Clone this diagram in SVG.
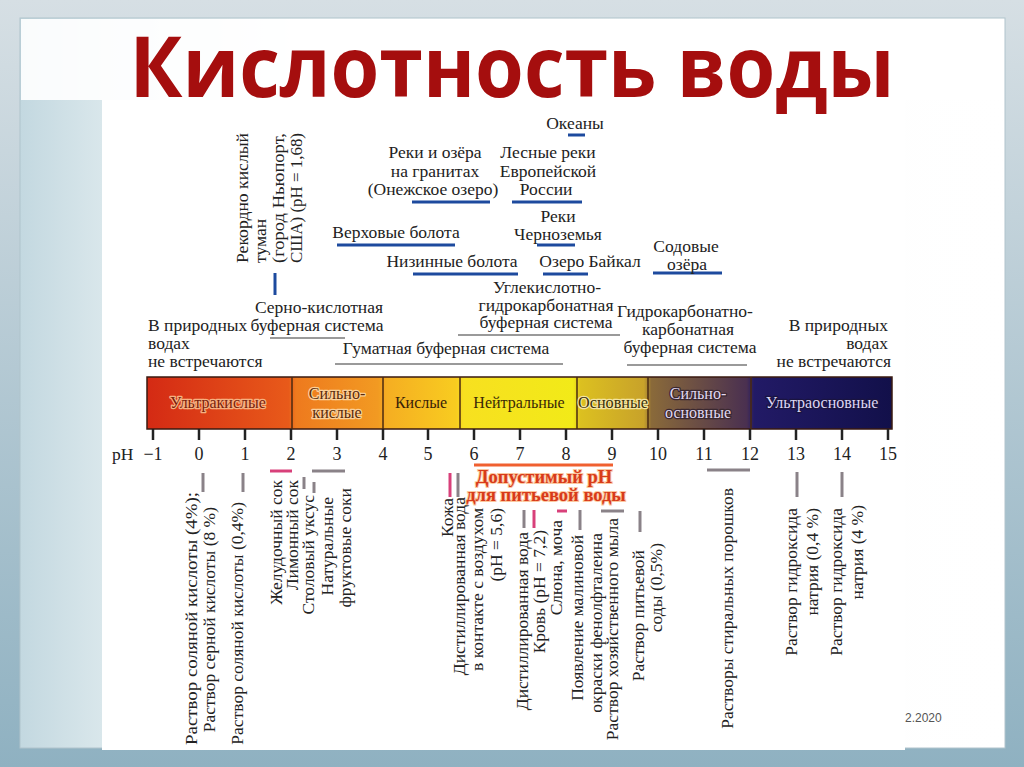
<svg xmlns="http://www.w3.org/2000/svg" width="1024" height="767" viewBox="0 0 1024 767">
<defs>
<linearGradient id="outer" x1="0" y1="0" x2="0" y2="1">
<stop offset="0" stop-color="#d6dfe4"/><stop offset="1" stop-color="#8fb1c1"/>
</linearGradient>
<linearGradient id="slide" x1="0" y1="0" x2="1" y2="0">
<stop offset="0" stop-color="#c3d8e0"/><stop offset="0.09" stop-color="#dbe8ec"/><stop offset="0.3" stop-color="#fbfcfc"/><stop offset="1" stop-color="#ffffff"/>
</linearGradient>
<linearGradient id="bar" x1="147" y1="0" x2="892" y2="0" gradientUnits="userSpaceOnUse">
<stop offset="0" stop-color="#d42a14"/><stop offset="0.19" stop-color="#e85a1a"/>
<stop offset="0.2" stop-color="#ee7a1e"/><stop offset="0.31" stop-color="#f29a22"/>
<stop offset="0.322" stop-color="#f5ae22"/><stop offset="0.415" stop-color="#f8cc20"/>
<stop offset="0.425" stop-color="#f7e020"/><stop offset="0.572" stop-color="#f2ea18"/>
<stop offset="0.582" stop-color="#dcc020"/><stop offset="0.667" stop-color="#c8a22a"/>
<stop offset="0.677" stop-color="#8a6a3a"/><stop offset="0.805" stop-color="#4a3050"/>
<stop offset="0.815" stop-color="#221a66"/><stop offset="1" stop-color="#12104a"/>
</linearGradient>
<style>
.t{font-family:"Liberation Serif","DejaVu Serif",serif;font-size:17.5px;fill:#222}
.m{text-anchor:middle}
.e{text-anchor:end}
.bt{font-family:"Liberation Serif","DejaVu Serif",serif;font-size:16px;text-anchor:middle;paint-order:stroke;stroke-width:2.5px;stroke-linejoin:round}
.num{font-family:"Liberation Serif","DejaVu Serif",serif;font-size:18px;fill:#222;text-anchor:middle}
.dr{font-family:"Liberation Serif","DejaVu Serif",serif;font-weight:bold;font-size:18.5px;fill:#d83a1a;stroke:#fbc8a0;stroke-width:2px;paint-order:stroke;text-anchor:middle}
.blue{stroke:#1d4a9e;stroke-width:3;fill:none}
.gray{stroke:#9a9a9a;stroke-width:2;fill:none}
.gm{stroke:#8a8288;stroke-width:3;fill:none}
.pk{stroke:#d8407a;stroke-width:3;fill:none}
.tick{stroke:#222;stroke-width:2.5}
.div{stroke:#4a2a10;stroke-width:1.5}
</style>
</defs>

<g id="background">
<rect x="0" y="0" width="1024" height="767" fill="url(#outer)"/>
<rect x="20" y="18" width="985" height="730" fill="url(#slide)" stroke="#b0c3cc"/>
<rect x="21" y="19" width="983" height="81" fill="#ffffff" opacity="0.9"/>
<rect x="102" y="100" width="803" height="650" fill="#ffffff"/>
</g>

<g id="title">
<text x="512" y="97" text-anchor="middle" textLength="765" lengthAdjust="spacingAndGlyphs" font-family="Open Sans, Liberation Sans, sans-serif" font-weight="bold" font-size="84" fill="#a50e0e">Кислотность воды</text>
</g>

<g id="scale">
<rect x="147" y="377" width="745" height="52" fill="url(#bar)" stroke="#3a1a10" stroke-width="1.5"/>
<line class="div" x1="292" y1="377" x2="292" y2="429"/>
<line class="div" x1="383" y1="377" x2="383" y2="429"/>
<line class="div" x1="460" y1="377" x2="460" y2="429"/>
<line class="div" x1="577" y1="377" x2="577" y2="429"/>
<line class="div" x1="648" y1="377" x2="648" y2="429"/>
<line class="div" x1="751" y1="377" x2="751" y2="429"/>
<text class="bt" x="218" y="408" fill="#7a1e0c" stroke="#f6b080">Ультракислые</text>
<text class="bt" x="337" y="399" fill="#5a2a08" stroke="#fbd098">Сильно-</text>
<text class="bt" x="337" y="418" fill="#5a2a08" stroke="#fbd098">кислые</text>
<text class="bt" x="421" y="408" fill="#3a2208" stroke="none">Кислые</text>
<text class="bt" x="519" y="408" fill="#3a2a08" stroke="none">Нейтральные</text>
<text class="bt" x="613" y="408" fill="#3a3008" stroke="#f4e4a0" textLength="70" lengthAdjust="spacingAndGlyphs">Основные</text>
<text class="bt" x="698" y="399" fill="#e0d8f0" stroke="#3a2830">Сильно-</text>
<text class="bt" x="698" y="418" fill="#e0d8f0" stroke="#3a2830">основные</text>
<text class="bt" x="822" y="408" fill="#ddd6f4" stroke="#1a1440">Ультраосновные</text>
<g id="ticks">
<line class="tick" x1="153" y1="429" x2="153" y2="440"/>
<line class="tick" x1="199" y1="429" x2="199" y2="440"/>
<line class="tick" x1="245" y1="429" x2="245" y2="440"/>
<line class="tick" x1="291" y1="429" x2="291" y2="440"/>
<line class="tick" x1="337" y1="429" x2="337" y2="440"/>
<line class="tick" x1="383" y1="429" x2="383" y2="440"/>
<line class="tick" x1="428" y1="429" x2="428" y2="440"/>
<line class="tick" x1="474" y1="429" x2="474" y2="440"/>
<line class="tick" x1="520" y1="429" x2="520" y2="440"/>
<line class="tick" x1="566" y1="429" x2="566" y2="440"/>
<line class="tick" x1="612" y1="429" x2="612" y2="440"/>
<line class="tick" x1="658" y1="429" x2="658" y2="440"/>
<line class="tick" x1="704" y1="429" x2="704" y2="440"/>
<line class="tick" x1="750" y1="429" x2="750" y2="440"/>
<line class="tick" x1="796" y1="429" x2="796" y2="440"/>
<line class="tick" x1="842" y1="429" x2="842" y2="440"/>
<line class="tick" x1="888" y1="429" x2="888" y2="440"/>
</g>
<text class="t" x="112" y="460">pH</text>
<text class="num" x="153" y="460">−1</text>
<text class="num" x="199" y="460">0</text>
<text class="num" x="245" y="460">1</text>
<text class="num" x="291" y="460">2</text>
<text class="num" x="337" y="460">3</text>
<text class="num" x="383" y="460">4</text>
<text class="num" x="428" y="460">5</text>
<text class="num" x="474" y="460">6</text>
<text class="num" x="520" y="460">7</text>
<text class="num" x="566" y="460">8</text>
<text class="num" x="612" y="460">9</text>
<text class="num" x="658" y="460">10</text>
<text class="num" x="704" y="460">11</text>
<text class="num" x="750" y="460">12</text>
<text class="num" x="796" y="460">13</text>
<text class="num" x="842" y="460">14</text>
<text class="num" x="888" y="460">15</text>
</g>

<g id="connectors">
<line class="blue" x1="275" y1="273" x2="275" y2="295"/>
<line class="blue" x1="337" y1="245" x2="455" y2="245"/>
<line class="blue" x1="413" y1="274" x2="518" y2="274"/>
<line class="blue" x1="412" y1="202" x2="490" y2="202"/>
<line class="blue" x1="512" y1="202" x2="582" y2="202"/>
<line class="blue" x1="568" y1="135" x2="585" y2="135"/>
<line class="blue" x1="537" y1="245" x2="575" y2="245"/>
<line class="blue" x1="543" y1="274" x2="588" y2="274"/>
<line class="blue" x1="653" y1="273" x2="722" y2="273"/>
<line class="gray" x1="270" y1="338" x2="345" y2="338"/>
<line class="gray" x1="335" y1="364" x2="563" y2="364"/>
<line class="gray" x1="458" y1="335" x2="620" y2="335"/>
<line class="gray" x1="627" y1="365" x2="747" y2="365"/>
<line x1="474" y1="465" x2="613" y2="465" stroke="#f06030" stroke-width="3"/>
<line class="gm" x1="203" y1="473" x2="203" y2="492" stroke="#b08898"/>
<line class="gm" x1="243" y1="473" x2="243" y2="492" stroke="#b08898"/>
<line class="pk" x1="270" y1="471" x2="292" y2="471"/>
<line class="gm" x1="304" y1="477" x2="304" y2="489"/>
<line class="gm" x1="314" y1="482" x2="314" y2="493"/>
<line class="gm" x1="312" y1="471" x2="345" y2="471"/>
<line class="pk" x1="450" y1="473" x2="450" y2="497"/>
<line class="gm" x1="458" y1="473" x2="458" y2="497"/>
<line class="gm" x1="524" y1="510" x2="524" y2="528"/>
<line class="pk" x1="534" y1="510" x2="534" y2="528"/>
<line class="pk" x1="557" y1="511" x2="567" y2="511"/>
<line class="gm" x1="580" y1="510" x2="580" y2="530"/>
<line class="gm" x1="601" y1="511" x2="624" y2="511"/>
<line class="gm" x1="640" y1="511" x2="640" y2="532"/>
<line class="gm" x1="707" y1="470" x2="750" y2="470"/>
<line class="gm" x1="797" y1="472" x2="797" y2="497"/>
<line class="gm" x1="842" y1="472" x2="842" y2="497"/>
</g>

<g id="top-labels">
<g id="fog"><text class="t" transform="translate(248,263) rotate(-90)" textLength="130" lengthAdjust="spacingAndGlyphs">Рекордно кислый</text>
<text class="t" transform="translate(266,263) rotate(-90)">туман</text>
<text class="t" transform="translate(284,263) rotate(-90)" textLength="130" lengthAdjust="spacingAndGlyphs">(город Ньюпорт,</text>
<text class="t" transform="translate(302,263) rotate(-90)" textLength="130" lengthAdjust="spacingAndGlyphs">США) (pH = 1,68)</text></g>
<g id="oceans"><text class="t m" x="575" y="129">Океаны</text></g>
<g id="granite"><text class="t m" x="435" y="158">Реки и озёра</text>
<text class="t m" x="435" y="177">на гранитах</text>
<text class="t m" x="433" y="195">(Онежское озеро)</text></g>
<g id="forest"><text class="t m" x="548" y="158">Лесные реки</text>
<text class="t m" x="548" y="177">Европейской</text>
<text class="t m" x="546" y="195">России</text></g>
<g id="upland"><text class="t m" x="396" y="238">Верховые болота</text></g>
<g id="chernozem"><text class="t m" x="558" y="222">Реки</text>
<text class="t m" x="558" y="240">Черноземья</text></g>
<g id="lowland"><text class="t m" x="452" y="267">Низинные болота</text></g>
<g id="baikal"><text class="t m" x="590" y="267">Озеро Байкал</text></g>
<g id="soda"><text class="t m" x="686" y="252">Содовые</text>
<text class="t m" x="687" y="270">озёра</text></g>
<g id="sulfur"><text class="t m" x="319" y="313">Серно-кислотная</text>
<text class="t m" x="317" y="331">буферная система</text></g>
<g id="left-none"><text class="t" x="148" y="331">В природных</text>
<text class="t" x="148" y="349">водах</text>
<text class="t" x="148" y="367">не встречаются</text></g>
<g id="humic"><text class="t m" x="446" y="354">Гуматная буферная система</text></g>
<g id="carbonic"><text class="t m" x="547" y="293">Углекислотно-</text>
<text class="t m" x="546" y="311">гидрокарбонатная</text>
<text class="t m" x="546" y="328">буферная система</text></g>
<g id="hydrocarb"><text class="t m" x="685" y="317">Гидрокарбонатно-</text>
<text class="t m" x="688" y="335">карбонатная</text>
<text class="t m" x="690" y="353">буферная система</text></g>
<g id="right-none"><text class="t e" x="888" y="331">В природных</text>
<text class="t e" x="888" y="349">водах</text>
<text class="t e" x="891" y="367">не встречаются</text></g>
</g>

<g id="drinking">
<text class="dr" x="544" y="483">Допустимый pH</text>
<text class="dr" x="546" y="501">для питьевой воды</text>
</g>

<g id="bottom-labels">
<g id="hcl"><text class="t e" transform="translate(197,492) rotate(-90)" textLength="253" lengthAdjust="spacingAndGlyphs">Раствор соляной кислоты (4%);</text>
<text class="t e" transform="translate(215,507) rotate(-90)">Раствор серной кислоты (8 %)</text></g>
<g id="hcl2"><text class="t e" transform="translate(243,502) rotate(-90)">Раствор соляной кислоты (0,4%)</text></g>
<g id="gastric"><text class="t e" transform="translate(282,480) rotate(-90)">Желудочный сок</text></g>
<g id="lemon"><text class="t e" transform="translate(298,480) rotate(-90)">Лимонный сок</text></g>
<g id="vinegar"><text class="t e" transform="translate(314,495) rotate(-90)">Столовый уксус</text></g>
<g id="juice"><text class="t e" transform="translate(333,497) rotate(-90)">Натуральные</text>
<text class="t e" transform="translate(351,488) rotate(-90)">фруктовые соки</text></g>
<g id="skin"><text class="t e" transform="translate(453,498) rotate(-90)">Кожа</text></g>
<g id="dist-air"><text class="t e" transform="translate(465,497) rotate(-90)">Дистиллированная вода</text>
<text class="t e" transform="translate(483,508) rotate(-90)">в контакте с воздухом</text>
<text class="t e" transform="translate(502,508) rotate(-90)">(pH = 5,6)</text></g>
<g id="dist"><text class="t e" transform="translate(528,532) rotate(-90)">Дистиллированная вода</text></g>
<g id="blood"><text class="t e" transform="translate(545,530) rotate(-90)">Кровь (pH = 7,2)</text></g>
<g id="saliva"><text class="t e" transform="translate(562,520) rotate(-90)">Слюна, моча</text></g>
<g id="phenol"><text class="t e" transform="translate(583,535) rotate(-90)">Появление малиновой</text>
<text class="t e" transform="translate(602,533) rotate(-90)">окраски фенолфталеина</text></g>
<g id="soap"><text class="t e" transform="translate(618,518) rotate(-90)">Раствор хозяйственного мыла</text></g>
<g id="bsoda"><text class="t e" transform="translate(644,550) rotate(-90)">Раствор питьевой</text>
<text class="t e" transform="translate(662,543) rotate(-90)">соды (0,5%)</text></g>
<g id="powder"><text class="t e" transform="translate(733,488) rotate(-90)">Растворы стиральных порошков</text></g>
<g id="naoh1"><text class="t e" transform="translate(797,508) rotate(-90)">Раствор гидроксида</text>
<text class="t e" transform="translate(818,508) rotate(-90)">натрия (0,4 %)</text></g>
<g id="naoh2"><text class="t e" transform="translate(842,508) rotate(-90)">Раствор гидроксида</text>
<text class="t e" transform="translate(863,505) rotate(-90)">натрия (4 %)</text></g>
</g>

<g id="date"><text x="905" y="722" font-family="Liberation Sans, sans-serif" font-size="12" fill="#555">2.2020</text></g>
</svg>
